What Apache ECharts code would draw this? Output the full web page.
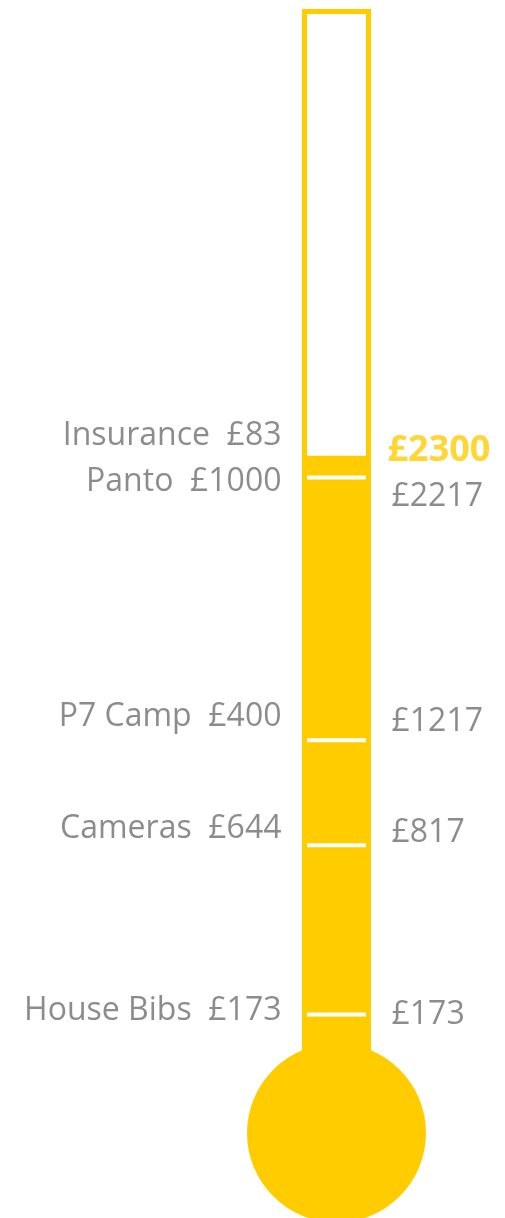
<!DOCTYPE html>
<html>
<head>
<meta charset="utf-8">
<script src="https://cdn.jsdelivr.net/npm/echarts@6/dist/echarts.min.js"></script>
<style>html,body{margin:0;padding:0;background:#fff;}#c{width:505px;height:1218px;}</style>
</head>
<body>
<div id="c"></div>
<script>
// ---- data ----
const categories = ['House Bibs', 'Cameras', 'P7 Camp', 'Panto', 'Insurance'];
const amounts = [173, 644, 400, 1000, 83];
const totals = [173, 817, 1217, 2217, 2300];
const raised = 2300;
const scaleMax = 4000;

// ---- styles ----
const YELLOW = '#FFCC00';
const GREY = '#6f6f6f';
const FONT = 'Open Sans';
const leftOffsets = [-4, -16, -23, 4, -20];
const rightOffsets = [0, -12, -18, 19, -5];

const chart = echarts.init(document.getElementById('c'), null, {renderer: 'canvas'});

const leftData = categories.map((c, i) => ({
  value: totals[i],
  label: {formatter: c + '  £' + amounts[i], offset: [0, leftOffsets[i]]}
}));
const rightData = totals.map((t, i) => {
  const isTop = i === totals.length - 1;
  return {
    value: t,
    label: isTop
      ? {formatter: '£' + t, offset: [-4, rightOffsets[i]], color: YELLOW, fontWeight: 'bold', fontSize: 36}
      : {formatter: '£' + t, offset: [0, rightOffsets[i]]}
  };
});

chart.setOption({
  animation: false,
  grid: {left: 302, right: 134, top: 9, bottom: 158},
  xAxis: {type: 'category', data: [''], show: false},
  yAxis: {type: 'value', min: 0, max: scaleMax, show: false, splitLine: {show: false}},
  series: [
    {
      type: 'bar', barWidth: 69, barGap: '-100%',
      data: [scaleMax],
      itemStyle: {color: '#fff', borderColor: YELLOW, borderWidth: 5},
      silent: true
    },
    {
      type: 'bar', barWidth: 69, barGap: '-100%',
      data: [raised],
      itemStyle: {color: YELLOW, borderColor: YELLOW, borderWidth: 5},
      silent: true
    },
    {
      type: 'scatter', data: [0], clip: false,
      symbol: 'circle', symbolSize: 179, symbolOffset: [0, 73],
      itemStyle: {color: YELLOW, opacity: 1}
    },
    {
      type: 'scatter', data: totals.slice(0, 4), clip: false,
      symbol: 'rect', symbolSize: [59, 4],
      itemStyle: {color: '#fff', opacity: 1}
    },
    {
      type: 'scatter', data: leftData, clip: false,
      symbolSize: 0, itemStyle: {color: 'rgba(0,0,0,0)'},
      label: {show: true, position: 'left', distance: 55, color: GREY, fontFamily: FONT, fontSize: 32, align: 'right', verticalAlign: 'middle'}
    },
    {
      type: 'scatter', data: rightData, clip: false,
      symbolSize: 0, itemStyle: {color: 'rgba(0,0,0,0)'},
      label: {show: true, position: 'right', distance: 55, color: GREY, fontFamily: FONT, fontSize: 32, align: 'left', verticalAlign: 'middle'}
    }
  ]
});
</script>
</body>
</html>
